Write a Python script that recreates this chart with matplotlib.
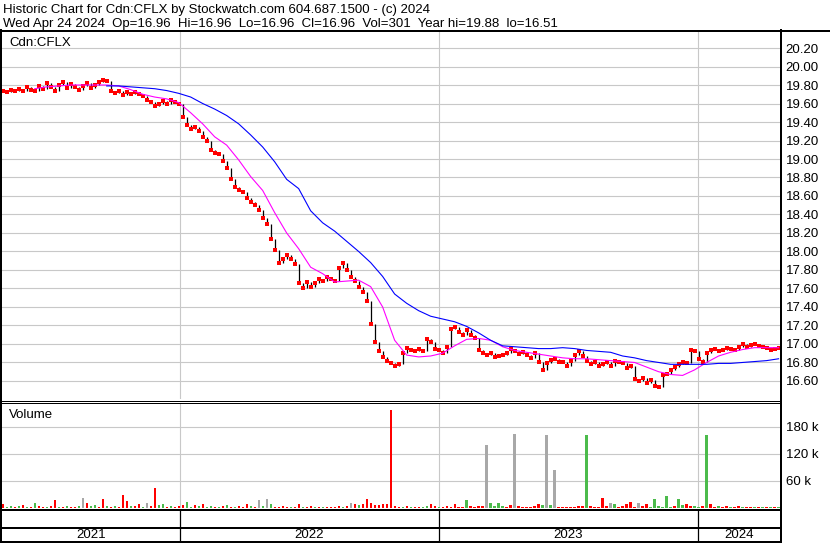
import numpy as np
import pandas as pd
import matplotlib
matplotlib.use('Agg')
import matplotlib.pyplot as plt
from matplotlib.lines import Line2D

plt.rcParams['font.family'] = ['Liberation Sans', 'DejaVu Sans']

# =====================================================================
# Data (about one point every 4 sessions)
# =====================================================================
first_day = '2021-04-26'
last_day = '2024-04-24'

close = [
    19.74, 19.72, 19.75, 19.73, 19.76, 19.74, 19.78, 19.75, 19.73, 19.79,
    19.76, 19.82, 19.78, 19.74, 19.80, 19.83, 19.77, 19.81, 19.78, 19.75,
    19.79, 19.82, 19.77, 19.80, 19.83, 19.85, 19.84, 19.74, 19.71, 19.73,
    19.69, 19.72, 19.70, 19.72, 19.70, 19.68, 19.64, 19.62, 19.57, 19.60,
    19.63, 19.60, 19.64, 19.62, 19.60, 19.45, 19.37, 19.32, 19.35, 19.30,
    19.24, 19.20, 19.10, 19.07, 19.05, 18.98, 18.90, 18.78, 18.70, 18.66,
    18.64, 18.58, 18.53, 18.50, 18.45, 18.36, 18.30, 18.14, 18.02, 17.88,
    17.92, 17.96, 17.92, 17.86, 17.66, 17.60, 17.67, 17.62, 17.66, 17.70,
    17.68, 17.72, 17.70, 17.68, 17.82, 17.88, 17.80, 17.72, 17.68, 17.62,
    17.56, 17.46, 17.22, 17.02, 16.92, 16.86, 16.82, 16.79, 16.76, 16.78,
    16.90, 16.96, 16.93, 16.92, 16.95, 16.92, 17.05, 17.02, 16.95, 16.93,
    16.90, 16.97, 17.16, 17.18, 17.13, 17.10, 17.15, 17.10, 17.06, 16.93,
    16.90, 16.88, 16.90, 16.86, 16.87, 16.88, 16.90, 16.95, 16.92, 16.89,
    16.91, 16.88, 16.85, 16.90, 16.80, 16.72, 16.79, 16.83, 16.84, 16.81,
    16.80, 16.76, 16.82, 16.88, 16.92, 16.87, 16.82, 16.78, 16.80, 16.76,
    16.78, 16.80, 16.76, 16.82, 16.81, 16.79, 16.74, 16.76, 16.62, 16.60,
    16.63, 16.58, 16.61, 16.55, 16.53, 16.66, 16.68, 16.72, 16.75, 16.78,
    16.80, 16.79, 16.94, 16.92, 16.84, 16.81, 16.90, 16.93, 16.95, 16.92,
    16.94, 16.96, 16.95, 16.93, 16.97, 17.00, 16.97, 16.99, 17.00, 16.98,
    16.97, 16.96, 16.94, 16.95, 16.96,
]

# moving averages, one value for every 3rd point of close
ma_short_start = 8
ma_short = [
    19.76, 19.78, 19.79, 19.80, 19.80, 19.80, 19.80, 19.79, 19.75, 19.70,
    19.67, 19.65, 19.61, 19.50, 19.38, 19.24, 19.15, 18.99, 18.81, 18.66,
    18.42, 18.20, 18.03, 17.83, 17.76, 17.67, 17.68, 17.69, 17.62, 17.40,
    17.04, 16.88, 16.86, 16.87, 16.90, 16.98, 17.05, 17.06, 17.04, 16.97,
    16.93, 16.91, 16.89, 16.87, 16.85, 16.84, 16.84, 16.83, 16.82, 16.81,
    16.80, 16.75, 16.70, 16.67, 16.66, 16.72, 16.80, 16.87, 16.91, 16.94,
    16.96, 16.96, 16.96,
]
ma_long_start = 26
ma_long = [
    19.79, 19.79, 19.78, 19.77, 19.76, 19.74, 19.71, 19.67, 19.60, 19.54,
    19.47, 19.38, 19.26, 19.13, 18.97, 18.78, 18.68, 18.44, 18.31, 18.22,
    18.11, 18.00, 17.88, 17.73, 17.54, 17.44, 17.36, 17.30, 17.27, 17.24,
    17.19, 17.12, 17.04, 16.98, 16.97, 16.96, 16.95, 16.95, 16.96, 16.95,
    16.93, 16.92, 16.91, 16.87, 16.85, 16.82, 16.80, 16.78, 16.78, 16.78,
    16.78, 16.79, 16.79, 16.80, 16.81, 16.82, 16.84,
]

# volume in thousands; r = down, g = up, a = unchanged
volume_k = [
    8, 3, 5, 2, 4, 6, 2, 3, 12, 4,
    3, 2, 5, 18, 3, 2, 4, 3, 2, 5,
    22, 12, 4, 6, 3, 20, 4, 3, 5, 3,
    28, 15, 5, 4, 8, 3, 12, 4, 45, 6,
    8, 3, 5, 2, 4, 6, 14, 3, 6, 4,
    8, 3, 5, 2, 3, 4, 6, 2, 3, 5,
    3, 8, 4, 2, 17, 5, 19, 8, 3, 2,
    4, 3, 2, 3, 9, 2, 3, 4, 2, 3,
    2, 3, 3, 2, 4, 3, 5, 10, 9, 6,
    8, 20, 10, 6, 7, 9, 8, 218, 5, 3,
    2, 4, 3, 2, 3, 2, 4, 9, 5, 3,
    3, 4, 2, 9, 3, 3, 17, 4, 3, 5,
    4, 140, 11, 5, 10, 4, 3, 6, 165, 4,
    2, 3, 3, 5, 9, 6, 161, 7, 84, 3,
    3, 2, 3, 2, 4, 5, 161, 5, 3, 2,
    23, 4, 10, 9, 3, 4, 8, 14, 3, 10,
    4, 8, 3, 20, 4, 3, 26, 3, 4, 20,
    6, 9, 4, 5, 3, 4, 163, 8, 3, 4,
    3, 4, 2, 3, 4, 2, 3, 2, 3, 2,
    2, 3, 2, 3, 2,
]
volume_dir = (
    "rggrgrgrgr" "rgrrgrgrrg" "arggrrgrgr" "rrgrrgarrg" "grgrrrggrg"
    "rggrgrgrgr" "rrgragagrr" "rrgrrgrrgr" "grrrrgrarg" "rrrrrrrrrr"
    "grgrrggrrg" "rrrrrrgrrr" "raggggrrar" "rrrrrgagar" "rrrrrrgrrr"
    "rragrrrrra" "rrggggggrg" "grrggrgrrg" "rrgrrgrrgr" "grgrg"
)

price_ticks = [16.6, 16.8, 17.0, 17.2, 17.4, 17.6, 17.8, 18.0, 18.2, 18.4,
               18.6, 18.8, 19.0, 19.2, 19.4, 19.6, 19.8, 20.0, 20.2]
volume_ticks = [60, 120, 180]
volume_labels = ['60 k', '120 k', '180 k']
years = ['2021', '2022', '2023', '2024']
year_starts = ['2022-01-01', '2023-01-01', '2024-01-01']

title_1 = 'Historic Chart for Cdn:CFLX by Stockwatch.com 604.687.1500 - (c) 2024'
title_2 = ('Wed Apr 24 2024  Op=16.96  Hi=16.96  Lo=16.96  Cl=16.96  '
           'Vol=301  Year hi=19.88  lo=16.51')

# =====================================================================
# Figure, laid out in pixels
# =====================================================================
W, H = 830, 543
FS = 9.5
GRID = '#c8c8c8'
fig = plt.figure(figsize=(W / 100, H / 100), dpi=100)


def box(x0, y0, x1, y1):
    return fig.add_axes([x0 / W, 1 - y1 / H, (x1 - x0) / W, (y1 - y0) / H])


def hline(y, x0, x1, lw):
    fig.add_artist(Line2D([x0 / W, x1 / W], [1 - y / H, 1 - y / H],
                          transform=fig.transFigure, color='black', lw=lw))


def vline(x, y0, y1, lw):
    fig.add_artist(Line2D([x / W, x / W], [1 - y0 / H, 1 - y1 / H],
                          transform=fig.transFigure, color='black', lw=lw))


dates = pd.date_range(first_day, last_day, periods=len(close))
xlim = (pd.Timestamp('2021-04-25'), pd.Timestamp('2024-04-26'))
ystarts = pd.to_datetime(year_starts)
c = np.array(close)

# --- price panel ---
ax = box(2, 31, 780, 399)
ax.set_xlim(xlim)
ax.set_ylim(16.405, 20.384)
ax.set_yticks(price_ticks)
ax.set_yticklabels([f'{p:.2f}' for p in price_ticks])
ax.yaxis.tick_right()
ax.set_xticks(ystarts)
ax.tick_params(axis='y', length=0, pad=4, labelsize=FS)
ax.tick_params(axis='x', length=0, labelbottom=False)
ax.grid(True, color=GRID, lw=0.8)
ax.set_axisbelow(True)
for s in ax.spines.values():
    s.set_visible(False)

ax.vlines(dates[1:], c[:-1], c[1:], color='black', lw=0.9)
ax.plot(dates, c, 's', ms=2.3, mew=0, color='red')
ax.plot(dates[ma_short_start::3], ma_short, color='#ff00ff', lw=0.8)
ax.plot(dates[ma_long_start::3], ma_long, color='#0000ff', lw=0.8)

# --- volume panel ---
av = box(2, 403, 780, 508)
av.set_xlim(xlim)
av.set_ylim(0, 233)
cmap = {'r': '#ff0000', 'g': '#4cbb4c', 'a': '#a8a8a8'}
av.bar(dates, volume_k, width=3.2, color=[cmap[d] for d in volume_dir],
       linewidth=0)
av.set_yticks(volume_ticks)
av.set_yticklabels(volume_labels)
av.yaxis.tick_right()
av.set_xticks(ystarts)
av.tick_params(axis='y', length=0, pad=4, labelsize=FS)
av.tick_params(axis='x', length=0, labelbottom=False)
av.grid(True, color=GRID, lw=0.8)
av.set_axisbelow(True)
for s in av.spines.values():
    s.set_visible(False)

# --- year band ---
ab = box(2, 510, 780, 541)
ab.set_xlim(xlim)
ab.set_ylim(0, 1)
ab.axis('off')
ab.vlines(ystarts, 0, 1, color='black', lw=0.9)
edges = [xlim[0]] + list(ystarts) + [xlim[1]]
for lab, a, b in zip(years, edges[:-1], edges[1:]):
    ab.text(a + (b - a) / 2, 0.2, lab, ha='center', va='center', fontsize=FS)

# --- frame ---
hline(30.5, 0, 830, 1.44)
vline(1, 30, 542, 1.44)
vline(781, 30, 542, 1.44)
hline(400.5, 0, 781, 0.72)
hline(402.5, 0, 781, 0.72)
hline(509.5, 0, 781, 1.44)
hline(527.5, 0, 781, 1.44)
hline(541.5, 0, 781, 1.44)

# --- text ---
fig.text(3 / W, 1 - 13.5 / H, title_1, fontsize=FS, va='baseline')
fig.text(3 / W, 1 - 27 / H, title_2, fontsize=FS, va='baseline')
fig.text(9 / W, 1 - 46 / H, 'Cdn:CFLX', fontsize=FS, va='baseline')
fig.text(9 / W, 1 - 418 / H, 'Volume', fontsize=FS, va='baseline')

fig.savefig('out.png', dpi=100)
